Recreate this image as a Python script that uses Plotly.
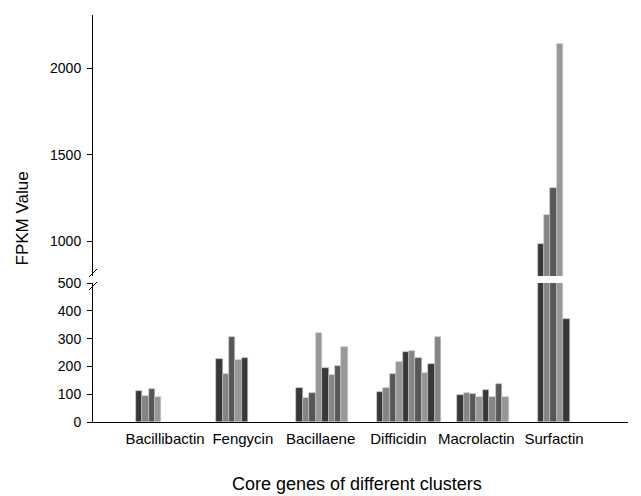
import plotly.graph_objects as go

# ---- data ----
clusters = ["Bacillibactin", "Fengycin", "Bacillaene", "Difficidin", "Macrolactin", "Surfactin"]
bacillibactin = [113, 93, 120, 90]
fengycin = [227, 172, 305, 223, 229]
bacillaene = [123, 85, 105, 320, 194, 169, 200, 269]
difficidin = [107, 124, 171, 216, 251, 255, 231, 178, 209, 304]
macrolactin = [97, 103, 100, 91, 115, 89, 137, 91]
surfactin = [984, 1153, 1310, 2138, 369]
series = [bacillibactin, fengycin, bacillaene, difficidin, macrolactin, surfactin]

lower_ticks = [0, 100, 200, 300, 400, 500]
upper_ticks = [1000, 1500, 2000]

# ---- layout constants (screen pixels; page body adds an 8px offset) ----
OFF = 8
W, H = 641 - OFF, 496 - OFF
PL, PR, PT, PB = 93, 628, 15, 422          # plot box on screen
L, T = PL - OFF, PT - OFF
R, B = W - (PR - OFF), H - (PB - OFF)
pw, ph = PR - PL, PB - PT
first_start, group_step = 6.64, 12.5      # in bar-width units
label_first, label_step = 11.2, 12.1
x_max = pw / 6.43

colors = ["#383838", "#858585", "#575757", "#979797"]

def ypix_to_paper(yp):
    return (PB - yp) / ph

def xpix_to_paper(xp):
    return (xp - PL) / pw

fig = go.Figure()
for gi, vals in enumerate(series):
    xs = [first_start + group_step * gi + j + 0.5 for j in range(len(vals))]
    cols = [colors[j % len(colors)] for j in range(len(vals))]
    for axis in ("y", "y2"):
        fig.add_trace(go.Bar(
            x=xs, y=vals, width=1.0, yaxis=axis,
            marker=dict(color=cols, line=dict(color="#c8c8c8", width=0.6)),
            showlegend=False, hoverinfo="y",
        ))

lower_top = ypix_to_paper(283)
upper_bottom = ypix_to_paper(276)

fig.update_layout(
    width=W, height=H,
    margin=dict(l=L, r=R, t=T, b=B, autoexpand=False),
    paper_bgcolor="white", plot_bgcolor="white",
    font=dict(family="Liberation Sans, Arial, sans-serif", color="black", size=14),
    bargap=0, barmode="overlay",
    xaxis=dict(
        range=[0, x_max], showgrid=False, zeroline=False,
        showline=True, linecolor="black", linewidth=1,
        tickvals=[label_first + label_step * i for i in range(len(clusters))],
        ticktext=clusters, ticks="", tickfont=dict(size=15),
        ticklabelstandoff=3,
    ),
    yaxis=dict(
        domain=[0, lower_top], range=[0, 500],
        tickvals=lower_ticks, ticks="outside", ticklen=5, tickcolor="black",
        showline=True, linecolor="black", linewidth=1,
        showgrid=False, zeroline=False, tickfont=dict(size=14),
        ticklabelstandoff=3,
    ),
    yaxis2=dict(
        domain=[upper_bottom, 1], range=[800, 2306],
        tickvals=upper_ticks, ticks="outside", ticklen=5, tickcolor="black",
        showline=True, linecolor="black", linewidth=1,
        showgrid=False, zeroline=False, tickfont=dict(size=14),
        ticklabelstandoff=3, anchor="x",
    ),
)

# axis-break slashes
dx, dy = 4 / pw, 4 / ph
for yp in (273, 286):
    yc = ypix_to_paper(yp)
    fig.add_shape(type="line", xref="paper", yref="paper",
                  x0=-dx, y0=yc - dy, x1=dx, y1=yc + dy,
                  line=dict(color="black", width=1))

fig.add_annotation(text="FPKM Value", xref="paper", yref="paper",
                   x=xpix_to_paper(22), y=0.5, textangle=-90, showarrow=False,
                   font=dict(size=17), xanchor="center", yanchor="middle")
fig.add_annotation(text="Core genes of different clusters", xref="paper", yref="paper",
                   x=xpix_to_paper(357), y=ypix_to_paper(484), showarrow=False,
                   font=dict(size=18), xanchor="center", yanchor="middle")

fig.write_html("out.html")
